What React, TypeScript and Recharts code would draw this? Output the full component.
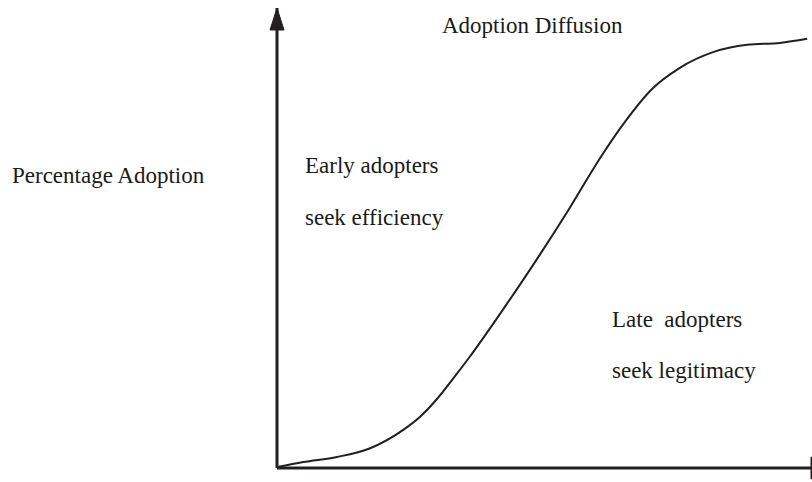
import React from "react";
import { LineChart, Line, XAxis, YAxis, ReferenceDot, ReferenceLine, Customized } from "recharts";

// Time / diffusion progress (0-100) and percentage adoption (0-100)
const progress = [0, 4.9, 11.2, 17.4, 23.6, 26.7, 29.9, 32.7, 36.1, 42.8, 49.2, 54.8, 60.4, 65.0, 70.1, 75.3, 81.5, 87.9, 94.0, 99.1];
const adoption = [0.2, 1.3, 2.4, 4.3, 8.3, 11.1, 15.0, 19.1, 24.3, 35.4, 46.5, 56.7, 67.4, 75.2, 82.4, 87.0, 90.4, 92.0, 92.4, 93.3];

const title = "Adoption Diffusion";
const yLabel = "Percentage Adoption";
const earlyLines = ["Early adopters", "seek efficiency"];
const lateLines = ["Late  adopters", "seek legitimacy"];

const data = progress.map((x, i) => ({ x, y: adoption[i] }));

const INK = "#231f20";
const FONT = "'Liberation Serif', 'Times New Roman', serif";

const UpArrow = (props: any) => {
  const { cx, cy } = props;
  return <path d={`M${cx},${cy} L${cx - 7},${cy + 22} L${cx + 7},${cy + 22} Z`} fill={INK} stroke={INK} strokeWidth={1} />;
};
const RightArrow = (props: any) => {
  const { cx, cy } = props;
  return <path d={`M${cx - 1},${cy - 11} L${cx + 21},${cy} L${cx - 1},${cy + 11} Z`} fill={INK} stroke={INK} strokeWidth={1} />;
};

const Texts = () => (
  <g fontFamily={FONT} fontSize={23} fill="#1a1a1a">
    <text x={442} y={33}>{title}</text>
    <text x={12} y={183}>{yLabel}</text>
    <text x={305} y={173}>{earlyLines[0]}</text>
    <text x={305} y={225}>{earlyLines[1]}</text>
    <text x={612} y={327} style={{ whiteSpace: "pre" }}>{lateLines[0]}</text>
    <text x={612} y={378}>{lateLines[1]}</text>
  </g>
);

export default function App() {
  return (
    <div style={{ position: "absolute", left: 0, top: 0, background: "#fff" }}>
      <LineChart width={812} height={482} data={data} margin={{ top: 8, right: 0, bottom: 14, left: 277 }}>
        <XAxis type="number" dataKey="x" domain={[0, 100]} allowDataOverflow hide />
        <YAxis type="number" domain={[0, 100]} allowDataOverflow hide />
        <ReferenceLine x={0} stroke={INK} strokeWidth={3} ifOverflow="visible" />
        <ReferenceLine y={0} stroke={INK} strokeWidth={3} ifOverflow="visible" />
        <Line
          type="monotone"
          dataKey="y"
          stroke={INK}
          strokeWidth={2}
          dot={false}
          isAnimationActive={false}
        />
        <ReferenceDot x={0} y={100} ifOverflow="visible" shape={UpArrow} />
        <ReferenceDot x={100} y={0} ifOverflow="visible" shape={RightArrow} />
        <Customized component={Texts} />
      </LineChart>
    </div>
  );
}
